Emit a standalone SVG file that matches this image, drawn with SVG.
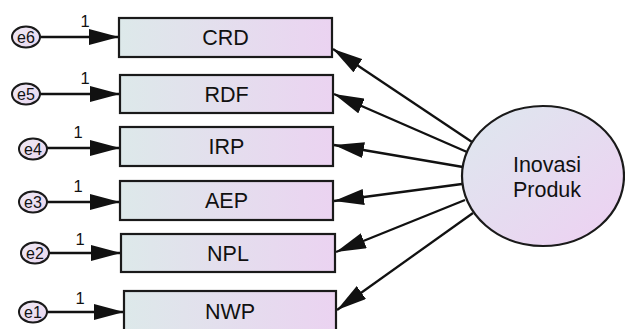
<svg xmlns="http://www.w3.org/2000/svg" width="625" height="329" viewBox="0 0 625 329">
<style>
.box{stroke:#1a1a1a;stroke-width:2.2;fill:url(#gBox)}
.err{stroke:#1a1a1a;stroke-width:2;fill:url(#gErr)}
.lat{stroke:#1a1a1a;stroke-width:2.2;fill:url(#gLat)}
.lbl{font-family:"Liberation Sans",Arial,sans-serif;font-size:21.5px;fill:#111;text-anchor:middle}
.elbl{font-family:"Liberation Sans",Arial,sans-serif;font-size:16px;fill:#111;text-anchor:middle}
.one{font-family:"Liberation Sans",Arial,sans-serif;font-size:16.5px;fill:#111;text-anchor:middle}
.con{stroke:#111;stroke-width:2.3;fill:none;marker-end:url(#ah)}
</style>
<defs>
<linearGradient id="gBox" x1="0" y1="0" x2="1" y2="0">
<stop offset="0" stop-color="#dde9ea"/>
<stop offset="1" stop-color="#ebd3f1"/>
</linearGradient>
<linearGradient id="gLat" x1="0" y1="0" x2="1" y2="1">
<stop offset="0" stop-color="#dde8ee"/>
<stop offset="1" stop-color="#eed0f2"/>
</linearGradient>
<linearGradient id="gErr" x1="0" y1="0" x2="1" y2="1">
<stop offset="0" stop-color="#f0eaf4"/>
<stop offset="1" stop-color="#e8d6f0"/>
</linearGradient>
<marker id="ah" markerUnits="userSpaceOnUse" markerWidth="32" markerHeight="16" refX="30" refY="8" orient="auto">
<path d="M0,0 L30,8 L0,16 Z" fill="#111"/>
</marker>
</defs>

<g id="connectors">
<line class="con" x1="40" y1="37" x2="119" y2="37"/>
<line class="con" x1="40" y1="94" x2="120" y2="94"/>
<line class="con" x1="47" y1="148" x2="120" y2="148"/>
<line class="con" x1="47" y1="202" x2="120" y2="202"/>
<line class="con" x1="49" y1="253" x2="121" y2="253"/>
<line class="con" x1="47" y1="312" x2="124" y2="312"/>
<line class="con" x1="472" y1="142" x2="333" y2="49"/>
<line class="con" x1="467" y1="152" x2="334" y2="94"/>
<line class="con" x1="463" y1="167" x2="334" y2="145"/>
<line class="con" x1="462" y1="184" x2="334" y2="201"/>
<line class="con" x1="465" y1="200" x2="336" y2="252"/>
<line class="con" x1="473" y1="213" x2="337" y2="310"/>
<text class="one" x="85" y="27">1</text>
<text class="one" x="85" y="84">1</text>
<text class="one" x="78" y="138">1</text>
<text class="one" x="78" y="192">1</text>
<text class="one" x="80" y="245">1</text>
<text class="one" x="80" y="304">1</text>
</g>

<g id="CRD"><rect class="box" x="119" y="18" width="213" height="39"/><text class="lbl" x="225.5" y="45">CRD</text></g>
<g id="RDF"><rect class="box" x="120" y="75" width="213" height="38"/><text class="lbl" x="226.5" y="102">RDF</text></g>
<g id="IRP"><rect class="box" x="120" y="127" width="213" height="39"/><text class="lbl" x="226.5" y="154">IRP</text></g>
<g id="AEP"><rect class="box" x="120" y="181" width="213" height="39"/><text class="lbl" x="226.5" y="208">AEP</text></g>
<g id="NPL"><rect class="box" x="121" y="234" width="214" height="38"/><text class="lbl" x="228" y="261">NPL</text></g>
<g id="NWP"><rect class="box" x="124" y="291" width="212" height="40"/><text class="lbl" x="230" y="319">NWP</text></g>

<g id="e6"><ellipse class="err" cx="26" cy="37" rx="14" ry="10.5"/><text class="elbl" x="26" y="42.5">e6</text></g>
<g id="e5"><ellipse class="err" cx="26" cy="94" rx="14" ry="10.5"/><text class="elbl" x="26" y="99.5">e5</text></g>
<g id="e4"><ellipse class="err" cx="33" cy="149" rx="14" ry="10.5"/><text class="elbl" x="33" y="154.5">e4</text></g>
<g id="e3"><ellipse class="err" cx="33" cy="202" rx="14" ry="10.5"/><text class="elbl" x="33" y="207.5">e3</text></g>
<g id="e2"><ellipse class="err" cx="35" cy="253" rx="14" ry="10.5"/><text class="elbl" x="35" y="258.5">e2</text></g>
<g id="e1"><ellipse class="err" cx="33" cy="312" rx="14" ry="10.5"/><text class="elbl" x="33" y="317.5">e1</text></g>

<g id="InovasiProduk"><ellipse class="lat" cx="543" cy="176" rx="81" ry="70"/>
<text class="lbl" x="547" y="172">Inovasi</text>
<text class="lbl" x="547" y="197">Produk</text></g>
</svg>
